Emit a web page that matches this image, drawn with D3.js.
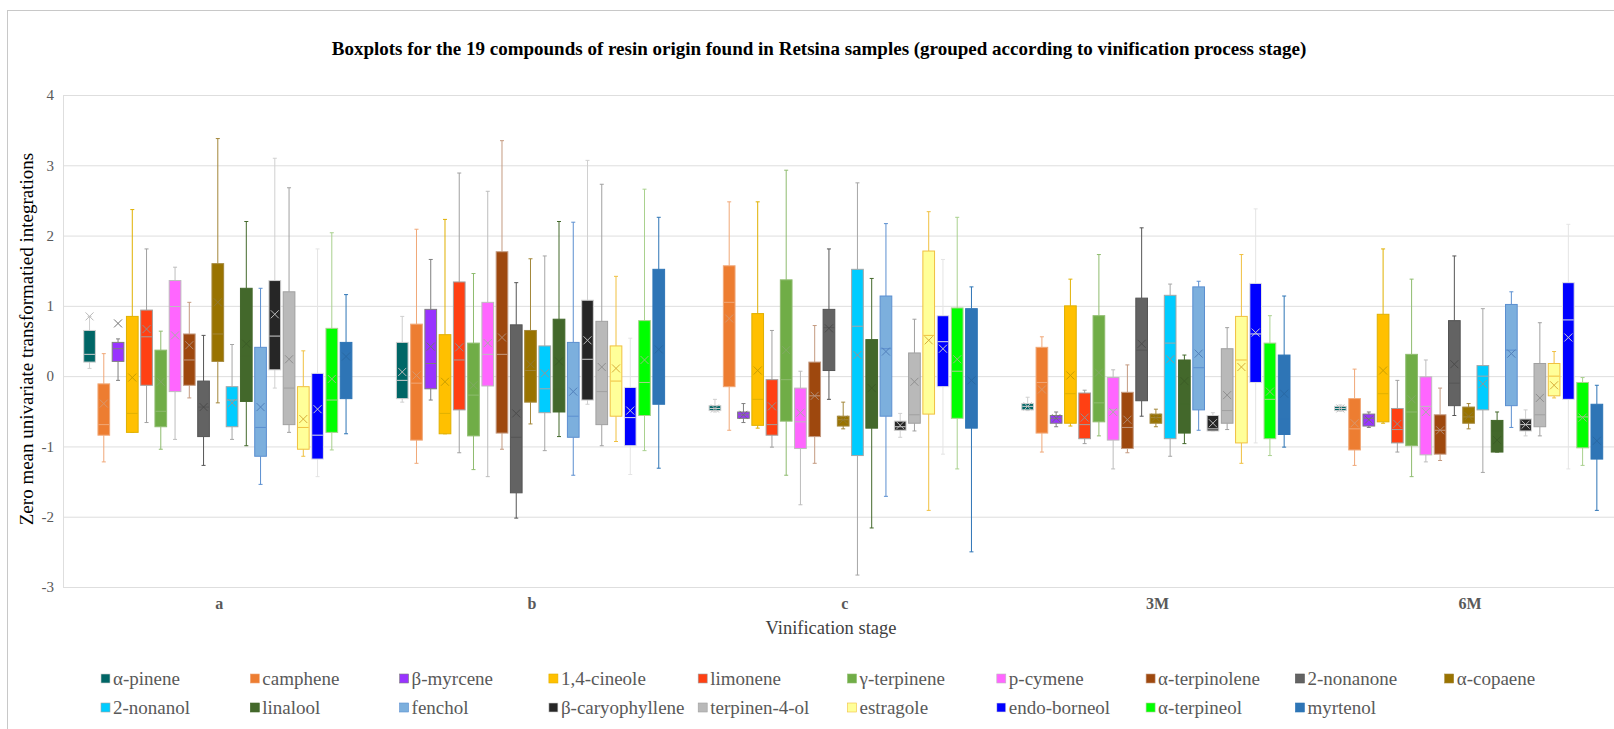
<!DOCTYPE html>
<html>
<head>
<meta charset="utf-8">
<script src="https://cdn.jsdelivr.net/npm/d3@7"></script>
<style>
  html, body { margin: 0; padding: 0; background: #fff; }
  svg { display: block; }
  svg text { font-family: "Liberation Serif", "Times New Roman", serif; }
</style>
</head>
<body>
<svg id="chart" width="1614" height="729"></svg>
<script>
// Vinification stages (x categories)
const stages = ['a', 'b', 'c', '3M', '6M'];

const compounds = ['α-pinene', 'camphene', 'β-myrcene', '1,4-cineole', 'limonene', 'γ-terpinene',
  'p-cymene', 'α-terpinolene', '2-nonanone', 'α-copaene', '2-nonanol', 'linalool', 'fenchol',
  'β-caryophyllene', 'terpinen-4-ol', 'estragole', 'endo-borneol', 'α-terpineol', 'myrtenol'];

const yTicks = [-3, -2, -1, 0, 1, 2, 3, 4];

// per compound: [min, q1, median, q3, max, mean]
const statsA = [
  [0.11, 0.20, 0.31, 0.65, 0.85, 0.85], [-1.22, -0.84, -0.69, -0.11, 0.32, -0.39],
  [-0.06, 0.21, 0.39, 0.48, 0.53, 0.75], [-0.80, -0.80, -0.53, 0.85, 2.37, -0.02],
  [-0.66, -0.13, 0.56, 0.94, 1.81, 0.67], [-1.04, -0.72, -0.50, 0.37, 0.64, -0.08],
  [-0.90, -0.22, 0.99, 1.36, 1.55, 0.58], [-0.31, -0.13, 0.23, 0.60, 1.05, 0.44],
  [-1.27, -0.86, -0.44, -0.07, 0.58, -0.44], [-0.38, 0.21, 0.60, 1.60, 3.38, 1.05],
  [-0.90, -0.72, -0.34, -0.15, 0.45, -0.38], [-0.99, -0.36, 0.28, 1.25, 2.20, 0.46],
  [-1.54, -1.14, -0.73, 0.41, 1.25, -0.44], [-0.17, 0.09, 0.57, 1.36, 3.10, 0.88],
  [-0.80, -0.69, -0.17, 1.20, 2.68, 0.24], [-1.14, -1.04, -0.73, -0.15, 0.36, -0.61],
  [-1.43, -1.18, -0.84, 0.04, 1.81, -0.47], [-1.05, -0.80, -0.34, 0.68, 2.04, -0.04],
  [-0.82, -0.32, 0.36, 0.48, 1.16, 0.28]
];
const statsB = [
  [-0.37, -0.32, -0.06, 0.48, 0.85, 0.06], [-1.24, -0.91, -0.10, 0.74, 2.09, 0.01],
  [-0.34, -0.18, 0.18, 0.95, 1.66, 0.42], [-0.82, -0.82, -0.53, 0.59, 2.23, -0.08],
  [-1.09, -0.48, 0.23, 1.34, 2.89, 0.41], [-1.33, -0.85, -0.27, 0.47, 1.46, -0.13],
  [-1.43, -0.14, 0.31, 1.05, 2.63, 0.47], [-1.04, -0.81, 0.31, 1.77, 3.35, 0.55],
  [-2.02, -1.66, -0.87, 0.73, 1.33, -0.53], [-0.68, -0.37, 0.08, 0.65, 1.67, 0.17],
  [-1.06, -0.52, -0.18, 0.43, 1.71, 0.04], [-0.86, -0.51, -0.19, 0.81, 2.20, 0.21],
  [-1.41, -0.87, -0.57, 0.48, 2.19, -0.22], [-0.40, -0.34, 0.24, 1.08, 3.07, 0.51],
  [-0.99, -0.69, -0.22, 0.78, 2.73, 0.13], [-0.93, -0.57, -0.07, 0.43, 1.42, 0.11],
  [-1.40, -0.99, -0.59, -0.16, 0.54, -0.49], [-1.06, -0.56, -0.09, 0.79, 2.66, 0.23],
  [-1.31, -0.40, 0.09, 1.52, 2.26, 0.38]
];
const statsC = [
  [-0.51, -0.49, -0.46, -0.42, -0.33, -0.46], [-0.77, -0.15, 1.05, 1.57, 2.48, 0.82],
  [-0.66, -0.60, -0.55, -0.51, -0.39, -0.55], [-0.74, -0.70, -0.33, 0.89, 2.48, 0.08],
  [-1.01, -0.84, -0.69, -0.05, 0.65, -0.43], [-1.41, -0.64, -0.05, 1.37, 2.93, 0.37],
  [-1.83, -1.03, -0.65, -0.17, 0.07, -0.52], [-1.24, -0.86, -0.28, 0.20, 0.72, -0.28],
  [-0.33, 0.08, 0.69, 0.95, 1.81, 0.68], [-0.75, -0.71, -0.62, -0.57, -0.37, -0.62],
  [-2.83, -1.13, 0.71, 1.52, 2.75, 0.30], [-2.16, -0.74, -0.37, 0.52, 1.39, -0.17],
  [-1.71, -0.57, 0.39, 1.14, 2.17, 0.35], [-0.87, -0.77, -0.72, -0.64, -0.53, -0.70],
  [-0.78, -0.67, -0.55, 0.33, 0.81, -0.08], [-1.91, -0.54, 0.58, 1.78, 2.34, 0.51],
  [-1.11, -0.15, 0.49, 0.86, 1.66, 0.39], [-1.32, -0.60, 0.07, 0.97, 2.26, 0.24],
  [-2.50, -0.74, -0.21, 0.96, 1.27, -0.06]
];
const stats3M = [
  [-0.49, -0.48, -0.43, -0.39, -0.30, -0.43], [-1.08, -0.81, -0.09, 0.41, 0.56, -0.19],
  [-0.72, -0.67, -0.60, -0.56, -0.51, -0.60], [-0.71, -0.67, -0.25, 1.00, 1.38, 0.01],
  [-0.96, -0.89, -0.69, -0.24, -0.20, -0.59], [-0.85, -0.65, -0.38, 0.86, 1.73, 0.05],
  [-1.32, -0.91, -0.48, -0.02, 0.09, -0.51], [-1.09, -1.03, -0.73, -0.23, 0.16, -0.62],
  [-0.57, -0.35, 0.37, 1.11, 2.11, 0.46], [-0.72, -0.67, -0.59, -0.54, -0.47, -0.59],
  [-1.14, -0.89, 0.47, 1.15, 1.31, 0.24], [-0.96, -0.81, -0.39, 0.23, 0.30, -0.07],
  [-0.77, -0.48, 0.12, 1.27, 1.35, 0.32], [-0.78, -0.78, -0.75, -0.56, -0.52, -0.67],
  [-0.76, -0.67, -0.49, 0.39, 0.69, -0.27], [-1.24, -0.95, 0.23, 0.85, 1.73, 0.13],
  [-0.95, -0.09, 0.60, 1.32, 2.38, 0.62], [-1.13, -0.89, -0.33, 0.47, 0.86, -0.22],
  [-1.01, -0.83, -0.61, 0.30, 1.14, -0.25]
];
const stats6M = [
  [-0.50, -0.49, -0.46, -0.43, -0.41, -0.46], [-1.27, -1.05, -0.75, -0.32, 0.10, -0.67],
  [-0.73, -0.71, -0.60, -0.54, -0.51, -0.62], [-0.67, -0.65, -0.25, 0.88, 1.81, 0.08],
  [-1.08, -0.95, -0.76, -0.46, -0.06, -0.68], [-1.43, -0.99, -0.51, 0.31, 1.38, -0.33],
  [-1.22, -1.12, -0.43, -0.01, 0.23, -0.51], [-1.20, -1.11, -0.77, -0.55, -0.17, -0.77],
  [-0.56, -0.42, -0.10, 0.79, 1.71, 0.17], [-0.75, -0.67, -0.58, -0.44, -0.39, -0.57],
  [-1.37, -0.48, 0.00, 0.15, 0.96, -0.11], [-1.08, -1.08, -0.78, -0.63, -0.51, -0.91],
  [-0.73, -0.42, 0.37, 1.02, 1.20, 0.32], [-0.85, -0.78, -0.69, -0.61, -0.48, -0.69],
  [-0.85, -0.72, -0.55, 0.18, 0.76, -0.31], [-0.31, -0.28, 0.00, 0.18, 0.35, -0.13],
  [-1.32, -0.33, 0.80, 1.33, 2.16, 0.55], [-1.27, -1.02, -0.58, -0.09, -0.02, -0.59],
  [-1.91, -1.18, -0.95, -0.40, -0.13, -0.92]
];
const stageStats = [statsA, statsB, statsC, stats3M, stats6M];

// fill colours and line colours (whiskers, borders, median, mean)
const fills = ['#006666', '#ED7D31', '#9933FF', '#FFC000', '#FF4013', '#70AD47', '#FF66FF', '#9E480E',
  '#636363', '#997300', '#00CCFF', '#43682B', '#7CAFDD', '#262626', '#B9B9B9', '#FFFF99', '#0000FF',
  '#00FF00', '#2E75B6'];
const lines = ['#cfcfcf', '#f0a878', '#7f7f7f', '#e0b000', '#a0a0a0', '#8fbc6f', '#bdbdbd', '#c49a80',
  '#555555', '#a3873a', '#a6a6a6', '#43682B', '#5b8fd0', '#d0d0d0', '#a0a0a0', '#f0c040', '#e4e4e4',
  '#a9d18e', '#2E75B6'];

const FONT = '"Liberation Serif", "Times New Roman", serif';
const svg = d3.select('#chart');
const W = 1614, H = 729;
const plot = { left: 63, right: 1626.5, top: 95, bottom: 587 };

svg.append('rect').attr('width', W).attr('height', H).attr('fill', '#fff');
// outer chart frame (cut off at the right and bottom)
svg.append('rect')
  .attr('x', 7.5).attr('y', 10.5).attr('width', W + 20).attr('height', H + 20)
  .attr('fill', 'none').attr('stroke', '#c8c8c8');

const x0 = d3.scaleBand().domain(stages).range([plot.left, plot.right]);
const x1 = d3.scaleBand().domain(compounds).range([20.2, 289.4]).paddingInner(0.11);
const y = d3.scaleLinear().domain([-3, 4]).range([plot.bottom, plot.top]);

// grid lines
svg.append('g')
  .attr('transform', `translate(${plot.left},0)`)
  .call(d3.axisLeft(y).tickValues(yTicks).tickSize(-(plot.right - plot.left)).tickFormat(''))
  .call(g => g.select('.domain').remove())
  .call(g => g.selectAll('line').attr('stroke', '#dedede'));

// plot border left
svg.append('line')
  .attr('x1', plot.left + 0.5).attr('x2', plot.left + 0.5)
  .attr('y1', plot.top).attr('y2', plot.bottom)
  .attr('stroke', '#dedede');

// y tick labels
svg.append('g')
  .attr('transform', `translate(${plot.left},0)`)
  .call(d3.axisLeft(y).tickValues(yTicks).tickSize(0).tickPadding(9).tickFormat(d => String(d)))
  .call(g => g.select('.domain').remove())
  .call(g => g.attr('font-family', FONT))
  .call(g => g.selectAll('text').attr('fill', '#595959').style('font-size', '15px'));

// x category labels
svg.append('g')
  .attr('transform', `translate(0,${plot.bottom})`)
  .call(d3.axisBottom(x0).tickSize(0).tickPadding(11))
  .call(g => g.select('.domain').remove())
  .call(g => g.attr('font-family', FONT))
  .call(g => g.selectAll('text').attr('fill', '#595959').style('font-size', '16px')
    .style('font-weight', 'bold'));

// boxes
const groups = svg.append('g').selectAll('g')
  .data(stages)
  .join('g')
  .attr('transform', d => `translate(${x0(d)},0)`);

const bw = x1.bandwidth();
groups.each(function (stage, si) {
  const g = d3.select(this);
  const rows = stageStats[si].map((s, i) => ({
    name: compounds[i], i,
    min: s[0], q1: s[1], med: s[2], q3: s[3], max: s[4], mean: s[5]
  }));
  const box = g.selectAll('g.box').data(rows).join('g').attr('class', 'box')
    .attr('transform', d => `translate(${x1(d.name)},0)`);

  const cx = bw / 2;
  // whiskers
  box.append('line')
    .attr('x1', cx).attr('x2', cx)
    .attr('y1', d => y(d.max)).attr('y2', d => y(d.q3))
    .attr('stroke', d => lines[d.i]);
  box.append('line')
    .attr('x1', cx).attr('x2', cx)
    .attr('y1', d => y(d.q1)).attr('y2', d => y(d.min))
    .attr('stroke', d => lines[d.i]);
  // caps
  box.selectAll('line.cap').data(d => [d.max, d.min].map(v => ({ v, i: d.i })))
    .join('line').attr('class', 'cap')
    .attr('x1', cx - 2).attr('x2', cx + 2)
    .attr('y1', d => y(d.v)).attr('y2', d => y(d.v))
    .attr('stroke', d => lines[d.i]);
  // box
  box.append('rect')
    .attr('x', 0.5).attr('width', bw - 1)
    .attr('y', d => y(d.q3))
    .attr('height', d => Math.max(1, y(d.q1) - y(d.q3)))
    .attr('fill', d => fills[d.i])
    .attr('stroke', d => lines[d.i]);
  // median
  box.append('line')
    .attr('x1', 1).attr('x2', bw - 1)
    .attr('y1', d => y(d.med)).attr('y2', d => y(d.med))
    .attr('stroke', d => lines[d.i]);
  // mean marker
  box.append('path')
    .attr('transform', d => `translate(${cx},${y(d.mean)})`)
    .attr('d', 'M-4,-4L4,4M-4,4L4,-4')
    .attr('fill', 'none')
    .attr('stroke', d => d3.color(lines[d.i]).darker(0.3))
    .attr('stroke-width', 1);
});

// title
svg.append('text')
  .attr('x', 819).attr('y', 55)
  .attr('text-anchor', 'middle')
  .attr('font-family', FONT)
  .style('font-size', '19px').style('font-weight', 'bold').attr('fill', '#000')
  .text('Boxplots for the 19 compounds of resin origin found in Retsina samples (grouped according to vinification process stage)');

// axis titles
svg.append('text')
  .attr('transform', 'translate(33,339) rotate(-90)')
  .attr('text-anchor', 'middle')
  .attr('font-family', FONT)
  .style('font-size', '19px').attr('fill', '#000')
  .text('Zero mean univariate transformatied integrations');

svg.append('text')
  .attr('x', 831).attr('y', 634)
  .attr('text-anchor', 'middle')
  .attr('font-family', FONT)
  .style('font-size', '18.5px').attr('fill', '#404040')
  .text('Vinification stage');

// legend
const legend = svg.append('g').selectAll('g')
  .data(compounds)
  .join('g')
  .attr('transform', (d, i) => `translate(${101 + (i % 10) * 149.3},${i < 10 ? 679 : 708})`);

legend.append('rect')
  .attr('x', 0).attr('y', -5).attr('width', 9).attr('height', 9)
  .attr('fill', (d, i) => fills[i])
  .attr('stroke', (d, i) => lines[i]).attr('stroke-width', 0.6);

legend.append('text')
  .attr('x', 12).attr('y', 6)
  .attr('font-family', FONT)
  .style('font-size', '19px').attr('fill', '#595959')
  .text(d => d);
</script>
</body>
</html>
